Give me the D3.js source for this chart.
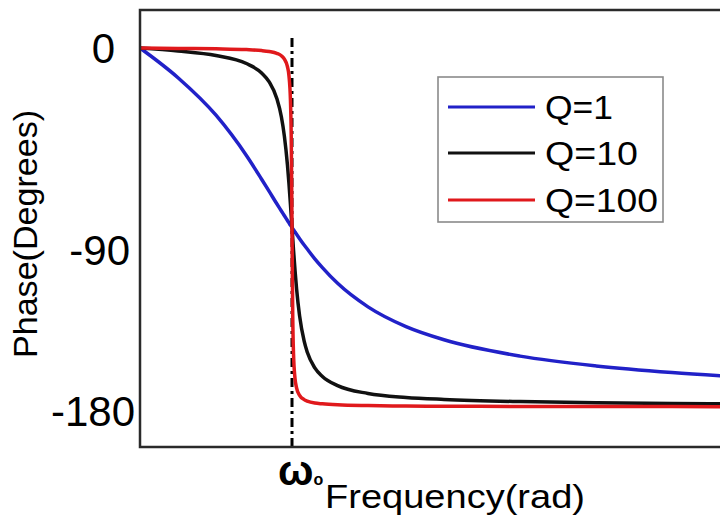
<!DOCTYPE html>
<html>
<head>
<meta charset="utf-8">
<script src="https://cdn.jsdelivr.net/npm/d3@7/dist/d3.min.js"></script>
<style>
  html, body { margin: 0; padding: 0; background: #fff; }
  svg { display: block; }
  text { font-family: "Liberation Sans", Arial, sans-serif; fill: #000; }
</style>
</head>
<body>
<svg id="chart" width="720" height="523"></svg>
<script>
// ---- data (frequency in units of ω/ω0, phase in degrees) ----
const freq = [0, 0.25, 0.5, 0.7, 0.8, 0.85, 0.9, 0.93, 0.95, 0.97, 0.98, 0.99, 0.995, 1,
              1.005, 1.01, 1.02, 1.03, 1.05, 1.08, 1.1, 1.15, 1.2, 1.3, 1.5, 1.75, 2, 2.5, 3, 3.5, 4];
const phaseQ1 = [0, -14.9, -33.7, -53.9, -65.8, -71.9, -78.1, -81.7, -84.1, -86.5, -87.7, -88.9, -89.4, -90,
                 -90.6, -91.1, -92.3, -93.4, -95.6, -98.8, -100.8, -105.7, -110.1, -118.0, -129.8, -139.7, -146.3, -154.5, -159.4, -162.7, -165.1];
const phaseQ10 = [0, -1.5, -3.8, -7.8, -12.5, -17.0, -25.3, -34.5, -44.3, -58.6, -68.0, -78.6, -84.3, -90,
                  -95.7, -101.3, -111.6, -120.6, -134.3, -147.0, -152.4, -160.4, -164.7, -169.3, -173.2, -175.2, -176.2, -177.3, -177.9, -178.2, -178.5];
const phaseQ100 = [0, -0.2, -0.4, -0.8, -1.3, -1.8, -2.7, -3.9, -5.6, -9.3, -13.9, -26.5, -44.9, -90,
                   -135.1, -153.3, -165.8, -170.4, -174.2, -176.3, -177.0, -178.0, -178.4, -178.9, -179.3, -179.5, -179.6, -179.7, -179.8, -179.8, -179.9];
const seriesNames = ["Q=1", "Q=10", "Q=100"];
const seriesValues = [phaseQ1, phaseQ10, phaseQ100];
const yTickValues = [0, -90, -180];
const yTickLabels = ["0", "-90", "-180"];
const resonance = 1;
const resonanceLabel = "ω";
const resonanceSub = "o";
const xTitle = "Frequency(rad)";
const yTitle = "Phase(Degrees)";

// ---- styles ----
const colors = ["#2121c8", "#111111", "#e0191c"];
const svg = d3.select("#chart");

const frame = { left: 140, top: 10, bottom: 447, right: 760 };
const x = d3.scaleLinear().domain([0, 4]).range([140, 748]);
const y = d3.scaleLinear().domain([-180, 0]).range([407, 48]);

svg.append("defs").append("clipPath").attr("id", "clip")
  .append("rect").attr("x", frame.left).attr("y", frame.top)
  .attr("width", frame.right - frame.left).attr("height", frame.bottom - frame.top);

// resonance dash-dot line
svg.append("line")
  .attr("x1", x(resonance)).attr("x2", x(resonance))
  .attr("y1", 38).attr("y2", frame.bottom)
  .attr("stroke", "#000").attr("stroke-width", 3)
  .attr("stroke-dasharray", "9,4,3,4");

// curves
const line = d3.line()
  .x((d, i) => x(freq[i]))
  .y(d => y(d))
  .curve(d3.curveMonotoneX);

const g = svg.append("g").attr("clip-path", "url(#clip)");
seriesValues.forEach((vals, k) => {
  g.append("path")
    .datum(vals)
    .attr("d", line)
    .attr("fill", "none")
    .attr("stroke", colors[k])
    .attr("stroke-width", 3.5)
    .attr("stroke-linejoin", "round");
});

// frame (left, top, bottom)
svg.append("path")
  .attr("d", `M${frame.right},${frame.top}H${frame.left}V${frame.bottom}H${frame.right}`)
  .attr("fill", "none").attr("stroke", "#2a2a2a").attr("stroke-width", 2.5);

// y tick labels
const tickNudge = [{ dx: -25, dy: 0 }, { dx: -10, dy: 23 }, { dx: -5, dy: 4 }];
svg.append("g").selectAll("text")
  .data(yTickValues)
  .join("text")
  .attr("x", (d, i) => 140 + tickNudge[i].dx)
  .attr("y", (d, i) => y(d) + tickNudge[i].dy)
  .attr("text-anchor", "end")
  .attr("dominant-baseline", "central")
  .attr("font-size", 42)
  .text((d, i) => yTickLabels[i]);

// resonance label
const rl = svg.append("text")
  .attr("x", x(resonance) - 14).attr("y", 485)
  .attr("font-size", 42)
  .attr("font-weight", "bold");
rl.append("tspan").text(resonanceLabel);
rl.append("tspan").attr("font-size", 16).attr("dy", 0).text(resonanceSub);

// axis titles
svg.append("text")
  .attr("x", 325).attr("y", 508)
  .attr("font-size", 33)
  .attr("textLength", 260).attr("lengthAdjust", "spacingAndGlyphs")
  .text(xTitle);

svg.append("text")
  .attr("transform", "translate(37,234) rotate(-90)")
  .attr("text-anchor", "middle")
  .attr("font-size", 33)
  .attr("textLength", 248).attr("lengthAdjust", "spacingAndGlyphs")
  .text(yTitle);

// legend
const lg = svg.append("g");
lg.append("rect")
  .attr("x", 438).attr("y", 77).attr("width", 225).attr("height", 145)
  .attr("fill", "#fff").attr("stroke", "#8a8a8a").attr("stroke-width", 1.6);
const legendRowY = [107, 153, 200];
const legendTextW = [68, 93, 113];
seriesNames.forEach((name, k) => {
  lg.append("line")
    .attr("x1", 448).attr("x2", 535)
    .attr("y1", legendRowY[k]).attr("y2", legendRowY[k])
    .attr("stroke", colors[k]).attr("stroke-width", 3);
  lg.append("text")
    .attr("x", 545).attr("y", legendRowY[k] + 12)
    .attr("font-size", 33)
    .attr("textLength", legendTextW[k]).attr("lengthAdjust", "spacingAndGlyphs")
    .text(name);
});
</script>
</body>
</html>
